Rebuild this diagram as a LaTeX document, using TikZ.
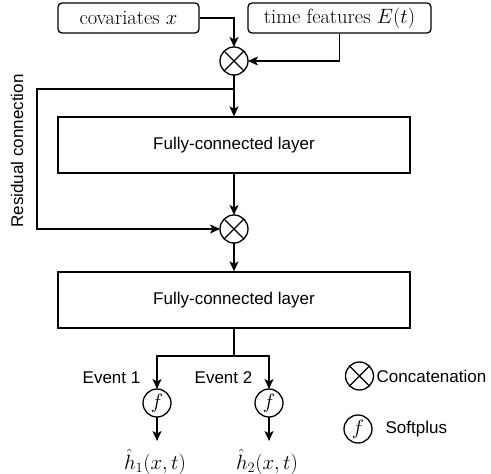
\documentclass[tikz,border=0pt]{standalone}
\usepackage{fontspec}
\setsansfont{Liberation Sans}
\usetikzlibrary{arrows.meta}
\begin{document}
\begin{tikzpicture}[x=1pt,y=-1pt,
  line width=1.3pt,
  arr/.style={-{Stealth[length=10pt,width=9pt,inset=2.5pt]}},
  inbox/.style={draw,rounded corners=4pt,minimum height=30pt,inner sep=0pt,font=\fontsize{20.5}{24}\selectfont},
  fcbox/.style={draw,minimum width=352pt,minimum height=56pt,inner sep=0pt,font=\sffamily\fontsize{17}{20}\selectfont},
  concat/.style={draw,circle,minimum size=28pt,inner sep=0pt,outer sep=0pt},
  fnode/.style={draw,circle,minimum size=28pt,inner sep=0pt,outer sep=0pt,font=\fontsize{20.5}{24}\selectfont},
  lab/.style={font=\sffamily\fontsize{17}{20}\selectfont,inner sep=0pt},
  mlab/.style={font=\fontsize{20.5}{24}\selectfont,inner sep=0pt}]
\useasboundingbox (0,0) rectangle (491,474);
\node[inbox,minimum width=141pt] (cov) at (128.5,18) {covariates $x$};
\node[inbox,minimum width=183pt] (tf) at (339.5,18) {time features $E(t)$};
\node[concat] (c1) at (234,61) {};
\draw (c1.north west) -- (c1.south east) (c1.north east) -- (c1.south west);
\node[fcbox] (fc1) at (234,145) {Fully-connected layer};
\node[concat] (c2) at (234,229) {};
\draw (c2.north west) -- (c2.south east) (c2.north east) -- (c2.south west);
\node[fcbox] (fc2) at (234,300) {Fully-connected layer};
\node[fnode] (f1) at (157,403) {$f$};
\node[fnode] (f2) at (269,403) {$f$};
\node[lab,anchor=east] (ev1) at (141,378) {Event 1};
\node[lab,anchor=east] (ev2) at (253,378) {Event 2};
\coordinate (e1) at (157,441);
\coordinate (e2) at (269,441);
\node[mlab] (h1) at (155,462) {$\hat{h}_1(x,t)$};
\node[mlab] (h2) at (267,462) {$\hat{h}_2(x,t)$};
% legend
\node[concat] (lc) at (359.5,376) {};
\draw (lc.north west) -- (lc.south east) (lc.north east) -- (lc.south west);
\node[lab,anchor=west] (lct) at (376,376) {Concatenation};
\node[fnode] (lf) at (358,429) {$f$};
\node[lab,anchor=west] (lft) at (385,429) {Softplus};
\node[lab,rotate=90] (res) at (17,151) {Residual connection};
% connectors
\draw[arr] (cov.east) -| (c1.north);
\draw[arr] (tf.south) |- (c1.east);
\draw[arr] (c1.south) -- (fc1.north);
\coordinate (j1) at (234,89);
\coordinate (rc) at (37,89);
\draw[arr] (j1) -- (rc) |- (c2.west);
\draw[arr] (fc1.south) -- (c2.north);
\draw[arr] (c2.south) -- (fc2.north);
\coordinate (b) at (234,356);
\draw (fc2.south) -- (b);
\draw[arr] (b) -| (f1.north);
\draw[arr] (b) -| (f2.north);
\draw[arr] (f1.south) -- (e1);
\draw[arr] (f2.south) -- (e2);
\end{tikzpicture}
\end{document}
